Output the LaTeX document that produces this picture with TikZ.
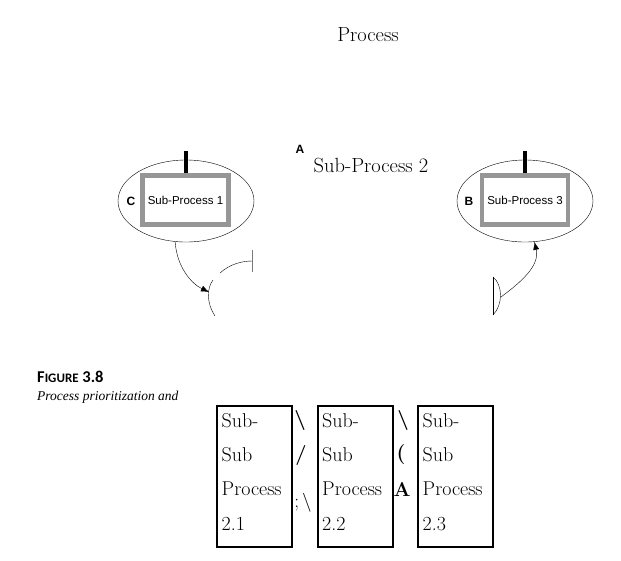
\documentclass[tikz,border=0pt]{standalone}
\usepackage{fontspec}
\newfontfamily\arialfont{Liberation Sans}
\newfontfamily\timesfont{Liberation Serif}
\newfontfamily\calibrifont{Carlito}
\usetikzlibrary{shapes.geometric,arrows.meta}
\definecolor{boxgray}{RGB}{150,150,150}
\definecolor{bargray}{RGB}{120,120,120}

\begin{document}
\begin{tikzpicture}[x=1pt,y=-1pt,
    bigtext/.style={font=\fontsize{20.5}{24}\selectfont, inner sep=0pt},
    oval/.style={draw, ellipse, thin, minimum width=136pt, minimum height=82pt, inner sep=0pt},
    graybox/.style={draw=boxgray, line width=4.5pt, minimum width=86pt, minimum height=49pt,
      inner sep=0pt, font=\arialfont\fontsize{11.5}{13}\selectfont},
    letter/.style={font=\arialfont\bfseries\fontsize{12}{14}\selectfont, inner sep=0pt},
    tick/.style={line width=4pt},
    flow/.style={thin, -{Latex[length=8pt,width=6pt]}},
    subbox/.style={draw, line width=2pt, minimum width=75pt, minimum height=141pt, inner sep=0pt},
    boxtext/.style={anchor=north west, inner sep=0pt, align=left,
      font=\fontsize{20}{34.3}\selectfont},
    gapchar/.style={font=\bfseries\fontsize{20}{24}\selectfont, inner sep=0pt}]
  \useasboundingbox (0,0) rectangle (621,560);

  \node[bigtext] (proc) at (368,35) {Process};
  \node[letter] (la) at (300,149) {A};
  \node[bigtext] (sp2) at (371,165) {Sub-Process 2};

  \node[oval] (ov1) at (186,201) {};
  \node[graybox] (sp1) at (185.5,200) {Sub-Process 1};
  \node[letter] (lc) at (131,201) {C};
  \draw[tick] (sp1.north) -- ++(0,-22);

  \node[oval] (ov3) at (525,201) {};
  \node[graybox] (sp3) at (525,200) {Sub-Process 3};
  \node[letter] (lb) at (469,201) {B};
  \draw[tick] (sp3.north) -- ++(0,-22);

  \coordinate (tip1) at (209,292);
  \draw[flow] (ov1.255) .. controls (177,268) and (192,284) .. (tip1);
  \draw[thin] (215,316) .. controls (206,302) and (207,288) .. (213,280);
  \coordinate (bar1) at (252.5,261);
  \draw[thin] (220,273) .. controls (230,264) and (242,261) .. (bar1);
  \draw[bargray, line width=1.5pt] (bar1) ++(0,-11) -- ++(0,22);

  \coordinate (lens) at (501,297);
  \draw[thin] (493,277) -- (493,315);
  \draw[thin] (493,277) .. controls (503,285) and (503,305) .. (493,315);
  \draw[flow] (lens) .. controls (521,282) and (540,266) .. (ov3.283);

  \node[anchor=west, inner sep=0pt, font=\calibrifont\bfseries] (fig) at (37,377)
    {{\fontsize{16.5}{18}\selectfont F}{\fontsize{13}{18}\selectfont IGURE}\fontsize{16.5}{18}\selectfont{} 3.8};
  \node[anchor=west, inner sep=0pt, font=\timesfont\itshape\fontsize{13.5}{15}\selectfont] (cap) at (37,397)
    {Process prioritization and};

  \node[subbox] (s21) at (254.5,476.5) {};
  \node[subbox] (s22) at (355,476.5) {};
  \node[subbox] (s23) at (455.5,476.5) {};
  \node[boxtext] (t21) at ([shift={(5.5,8)}]s21.north west) {Sub-\\Sub\\Process\\2.1};
  \node[boxtext] (t22) at ([shift={(5.5,8)}]s22.north west) {Sub-\\Sub\\Process\\2.2};
  \node[boxtext] (t23) at ([shift={(5.5,8)}]s23.north west) {Sub-\\Sub\\Process\\2.3};

  \node[gapchar] (g1) at (300,420) {\textbackslash};
  \node[gapchar] (g2) at (301,455) {/};
  \node[inner sep=0pt, font=\fontsize{19}{22}\selectfont] (g3) at (303,503) {;\,\textbackslash};
  \node[gapchar] (g4) at (403,420) {\textbackslash};
  \node[gapchar] (g5) at (401,455) {(};
  \node[gapchar] (g6) at (402,489) {A};
\end{tikzpicture}
\end{document}
